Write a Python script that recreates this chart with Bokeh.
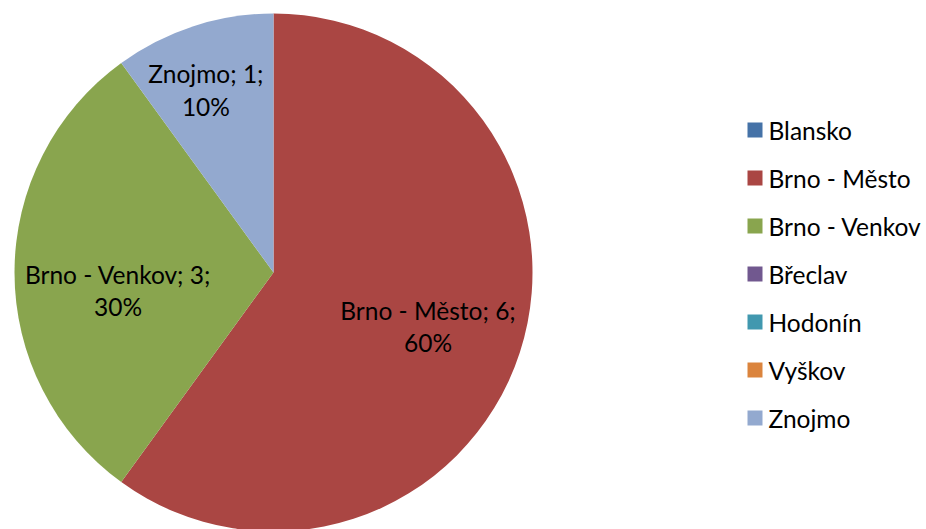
import numpy as np
from bokeh.plotting import figure
from bokeh.models import Range1d, ColumnDataSource
from bokeh.core.properties import value
from bokeh.embed import file_html
from bokeh.resources import INLINE

# ---- data ----
categories = ["Blansko", "Brno - Město", "Brno - Venkov", "Břeclav", "Hodonín", "Vyškov", "Znojmo"]
counts = [0, 6, 3, 0, 0, 0, 1]
colors = ["#4572A7", "#AA4643", "#89A54E", "#71588F", "#4198AF", "#DB843D", "#93A9CF"]

FONT = "Lato"
FS = "24.5px"

W, H = 926, 529
p = figure(width=W, height=H, output_backend="svg", toolbar_location=None,
           x_range=Range1d(0, W), y_range=Range1d(0, H), min_border=0)
p.axis.visible = False
p.grid.visible = False
p.outline_line_color = None
p.background_fill_color = "white"

# page coordinates -> data: x same, y = 529 - page_y
cx, cy, R = 273, 529 - 272, 259

vals = np.array(counts, dtype=float)
total = vals.sum()
frac = vals / total
start = np.pi / 2 - 2 * np.pi * np.concatenate([[0], np.cumsum(frac)[:-1]])
end = start - 2 * np.pi * frac
nz = vals > 0
src = ColumnDataSource(dict(start=start[nz], end=end[nz],
                            color=[c for c, k in zip(colors, nz) if k]))
p.wedge(x=cx, y=cy, radius=R, start_angle="start", end_angle="end",
        direction="clock", fill_color="color", line_color=None, source=src)

# data labels for non-zero slices (polar placement, tuned radius/angle offsets)
label_r = {"Brno - Město": 0.632, "Brno - Venkov": 0.604, "Znojmo": 0.752}
label_da = {"Brno - Město": -1.27, "Brno - Venkov": 6.6, "Znojmo": 2.3}
lx, ly, lt = [], [], []
for c, v, f, s, e in zip(categories, counts, frac, start, end):
    if v == 0:
        continue
    mid = (s + e) / 2 + np.deg2rad(label_da[c])
    r = label_r[c] * R
    lx.append(cx + r * np.cos(mid))
    ly.append(cy + r * np.sin(mid))
    lt.append(f"{c}; {v};\n{round(f * 100)}%")
p.text(x=lx, y=ly, text=lt, text_align="center", text_baseline="middle",
       text_font=value(FONT), text_font_size=FS, text_color="black", text_line_height=1.12)

# legend
leg_x = 754.5
leg_top = 529 - 129.5
leg_step = 48
idx = np.arange(len(categories))
ys = leg_top - idx * leg_step
p.scatter(x=[leg_x] * len(categories), y=ys, marker="square", size=15,
          fill_color=colors, line_color=None)
p.text(x=[leg_x + 13.5] * len(categories), y=ys, text=categories, text_align="left",
       text_baseline="middle", text_font=value(FONT), text_font_size=FS, text_color="black")

open("out.html", "w").write(file_html(p, INLINE))
